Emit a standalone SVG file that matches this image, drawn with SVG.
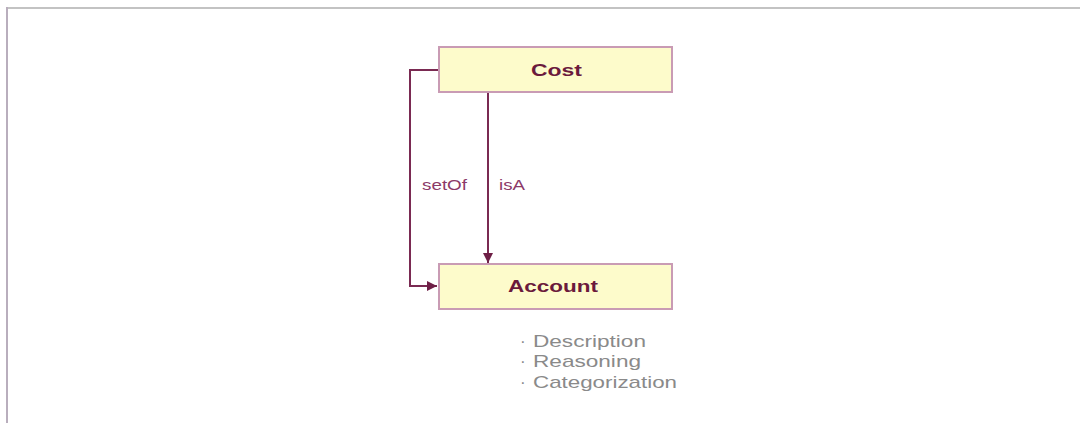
<svg xmlns="http://www.w3.org/2000/svg" width="1080" height="423" viewBox="0 0 1080 423">
  <defs>
    <marker id="arrow" viewBox="0 0 10 10" refX="10" refY="5" markerWidth="10" markerHeight="10" markerUnits="userSpaceOnUse" orient="auto">
      <path d="M0,0 L10,5 L0,10 z" fill="#6e1f46"/>
    </marker>
    <style>
      .box { fill: #fdfbcb; stroke: #c99bb4; stroke-width: 2; }
      .title { font-family: "Liberation Sans", Arial, sans-serif; font-weight: bold; font-size: 17px; fill: #6b1a3c; }
      .edge { fill: none; stroke: #7a2a52; stroke-width: 2; }
      .elabel { font-family: "Liberation Sans", Arial, sans-serif; font-size: 15px; fill: #8c3a68; }
      .bullet { font-family: "Liberation Sans", Arial, sans-serif; font-size: 17px; fill: #8a8a8a; }
    </style>
  </defs>

  <rect width="1080" height="423" fill="#ffffff"/>

  <!-- slide frame -->
  <line x1="6" y1="8" x2="1080" y2="8" stroke="#c3c3c3" stroke-width="2"/>
  <line x1="7" y1="7" x2="7" y2="423" stroke="#b9aebd" stroke-width="2"/>

  <g id="connectors">
    <path class="edge" d="M438,70 H410 V286 H437" marker-end="url(#arrow)"/>
    <path class="edge" d="M488,92 V263" marker-end="url(#arrow)"/>
    <text class="elabel" x="422" y="190" textLength="45" lengthAdjust="spacingAndGlyphs">setOf</text>
    <text class="elabel" x="499" y="190" textLength="26" lengthAdjust="spacingAndGlyphs">isA</text>
  </g>

  <g id="cost">
    <rect class="box" x="439" y="47" width="233" height="45"/>
    <text class="title" x="531" y="76" textLength="51" lengthAdjust="spacingAndGlyphs">Cost</text>
  </g>

  <g id="account">
    <rect class="box" x="439" y="264" width="233" height="45"/>
    <text class="title" x="508" y="292" textLength="90" lengthAdjust="spacingAndGlyphs">Account</text>
  </g>

  <g id="account-notes">
    <text class="bullet" x="520" y="347">·</text>
    <text class="bullet" x="533" y="347" textLength="113" lengthAdjust="spacingAndGlyphs">Description</text>
    <text class="bullet" x="520" y="367">·</text>
    <text class="bullet" x="533" y="367" textLength="108" lengthAdjust="spacingAndGlyphs">Reasoning</text>
    <text class="bullet" x="520" y="388">·</text>
    <text class="bullet" x="533" y="388" textLength="144" lengthAdjust="spacingAndGlyphs">Categorization</text>
  </g>
</svg>
